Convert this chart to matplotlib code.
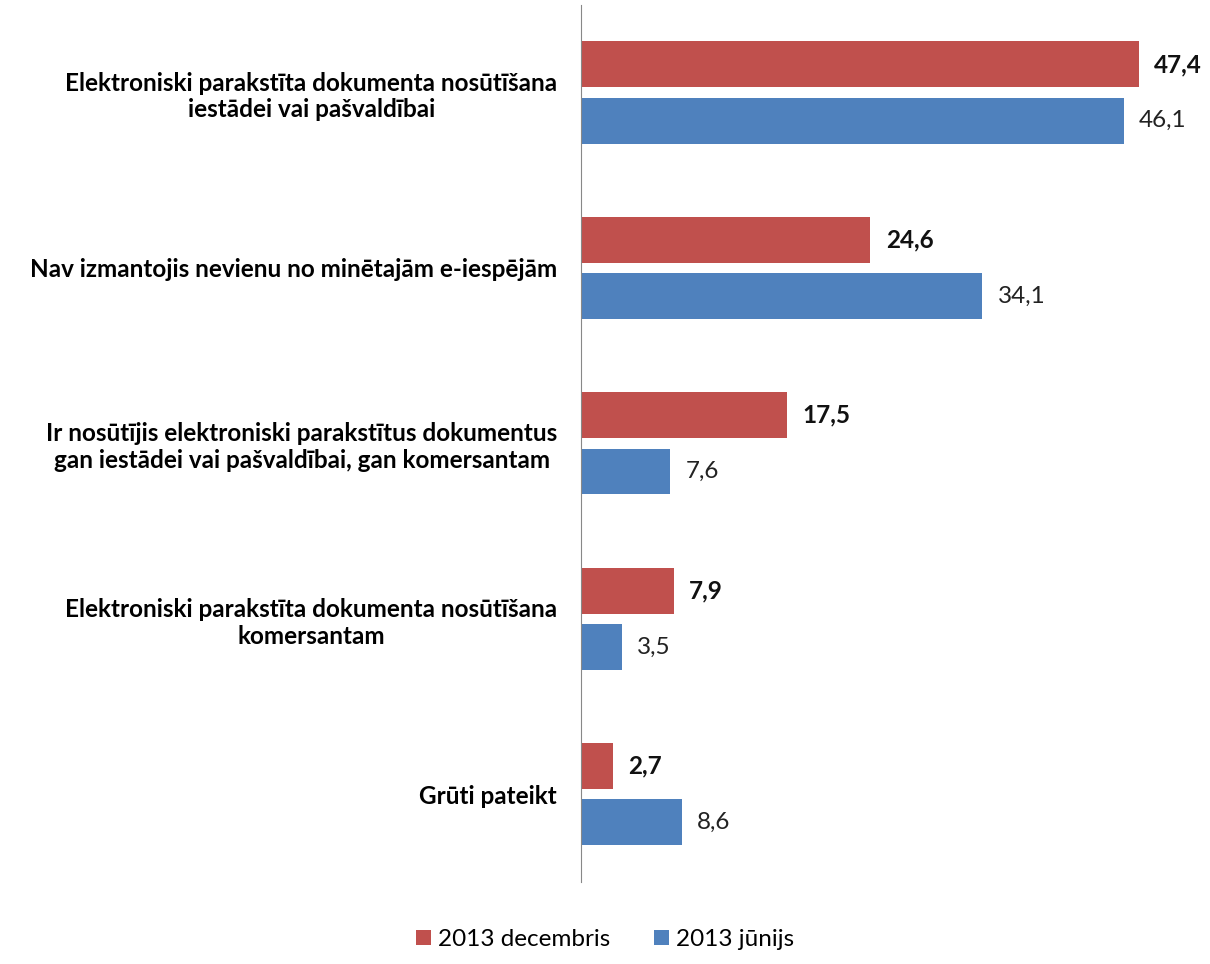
import numpy as np
import matplotlib.pyplot as plt

plt.rcParams['font.family'] = ['Lato', 'DejaVu Sans']

categories = ["Elektroniski parakstīta dokumenta nosūtīšana\niestādei vai pašvaldībai",
              "Nav izmantojis nevienu no minētajām e-iespējām",
              "Ir nosūtījis elektroniski parakstītus dokumentus\ngan iestādei vai pašvaldībai, gan komersantam",
              "Elektroniski parakstīta dokumenta nosūtīšana\nkomersantam",
              "Grūti pateikt"]
dec_2013 = [47.4, 24.6, 17.5, 7.9, 2.7]
jun_2013 = [46.1, 34.1, 7.6, 3.5, 8.6]
dec_labels = ["47,4", "24,6", "17,5", "7,9", "2,7"]
jun_labels = ["46,1", "34,1", "7,6", "3,5", "8,6"]

red = '#C0504D'
blue = '#4F81BD'

fig = plt.figure(figsize=(12.1, 9.64), dpi=100)
ax = fig.add_axes([0.480, 0.085, 0.504, 0.910])

y = np.arange(len(categories))
h = 0.262
off = 0.16
ax.barh(y - off, dec_2013, height=h, color=red, label="2013 decembris")
ax.barh(y + off, jun_2013, height=h, color=blue, label="2013 jūnijs")

for i in range(len(categories)):
    ax.text(dec_2013[i] + 1.3, y[i] - off, dec_labels[i], va='center', ha='left',
            fontsize=17.5, fontweight='bold', color='#111111')
    ax.text(jun_2013[i] + 1.3, y[i] + off, jun_labels[i], va='center', ha='left',
            fontsize=17.5, color='#222222')

ax.set_ylim(len(categories) - 0.5, -0.5)
ax.set_xlim(0, 51.8)
ax.set_yticks(y)
ax.set_yticklabels(categories, fontsize=17.5, fontweight='bold', multialignment='center')
ax.tick_params(axis='y', length=0, pad=17)
ax.set_xticks([])
for s in ['top', 'right', 'bottom']:
    ax.spines[s].set_visible(False)
ax.spines['left'].set_color('#888888')

fig.legend(loc='lower center', bbox_to_anchor=(0.5, -0.008), ncol=2, frameon=False,
           fontsize=17.5, handlelength=0.6, handleheight=0.6, columnspacing=1.8, handletextpad=0.3)

plt.savefig("out.png")
